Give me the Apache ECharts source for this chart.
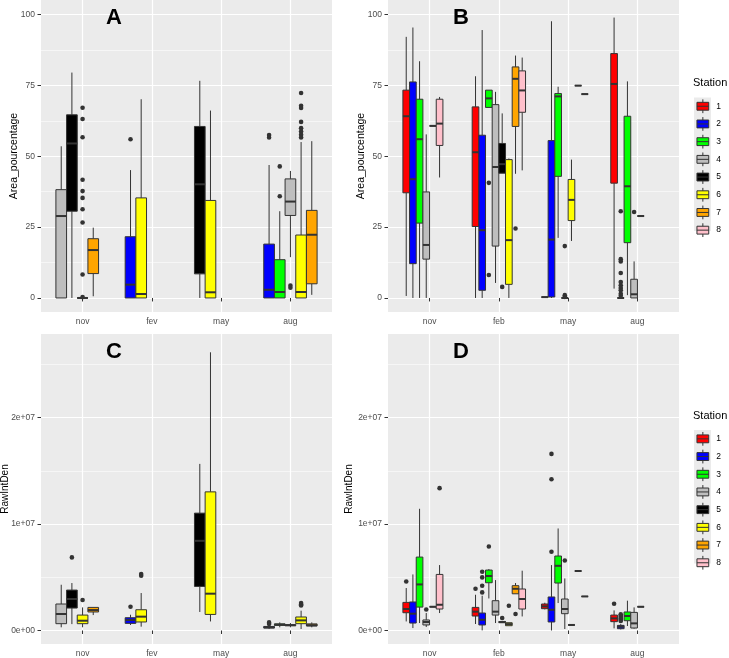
<!DOCTYPE html>
<html>
<head>
<meta charset="utf-8">
<script src="https://cdn.jsdelivr.net/npm/echarts@6/dist/echarts.min.js"></script>
<style>
html,body{margin:0;padding:0;background:#fff;}
#chart{width:729px;height:658px;}
</style>
</head>
<body>
<div id="chart"></div>
<script>
// ---------- data ----------
const monthsAC = ['nov', 'fev', 'may', 'aug'];
const monthsBD = ['nov', 'feb', 'may', 'aug'];
const stationNames = ['1', '2', '3', '4', '5', '6', '7', '8'];
const stationColors = ['#FF0000', '#0000FF', '#00FF00', '#BEBEBE', '#000000', '#FFFF00', '#FFA500', '#FFC0CB'];
const areaTicks = [0, 25, 50, 75, 100];
const areaMinorTicks = [12.5, 37.5, 62.5, 87.5];
const rawTicks = [0, 1e7, 2e7];
const rawTickLabels = ['0e+00', '1e+07', '2e+07'];
const rawMinorTicks = [5e6, 1.5e7, 2.5e7];

// [monthIndex, station, lowerWhisker, q1, median, q3, upperWhisker]
const boxesA = [
  [0, 4, 0, 0, 28.9, 38.2, 53.5],
  [0, 5, 0, 30.6, 54.5, 64.6, 79.5],
  [0, 6, 0, 0, 0, 0, 0.4],
  [0, 7, 0.6, 8.6, 16.9, 20.9, 24.8],
  [1, 2, 0, 0, 4.7, 21.6, 45.1],
  [1, 6, 0, 0, 1.4, 35.3, 70.1],
  [2, 5, 0, 8.5, 40.1, 60.5, 76.6],
  [2, 6, 0, 0, 2.0, 34.4, 66.1],
  [3, 2, 0, 0, 2.9, 19.0, 46.9],
  [3, 3, 0, 0, 2.1, 13.5, 30.6],
  [3, 4, 14.4, 29.1, 34.0, 42.0, 44.8],
  [3, 6, 0, 0, 2.1, 22.2, 55.0],
  [3, 7, 1.1, 5.0, 22.3, 30.9, 55.3]
];
// [monthIndex, station, value]
const outliersA = [
  [0, 6, 67.1], [0, 6, 63.1], [0, 6, 56.7], [0, 6, 41.7], [0, 6, 37.7], [0, 6, 35.3], [0, 6, 31.3], [0, 6, 26.6], [0, 6, 8.3], [0, 6, 0.3],
  [1, 2, 56.0],
  [3, 2, 57.5], [3, 2, 56.6],
  [3, 3, 46.4], [3, 3, 35.9],
  [3, 4, 3.6], [3, 4, 4.4],
  [3, 6, 72.3], [3, 6, 67.8], [3, 6, 67.0], [3, 6, 62.1], [3, 6, 59.9], [3, 6, 58.7], [3, 6, 57.6], [3, 6, 56.6]
];

const boxesB = [
  [0, 1, 0.7, 37.1, 64.1, 73.3, 92.1],
  [0, 2, 0, 12.1, 41.9, 76.2, 95.4],
  [0, 3, 0, 26.4, 56.0, 70.1, 83.5],
  [0, 4, 0, 13.7, 18.7, 37.4, 57.7],
  [0, 5, 60.7, 60.7, 60.7, 60.7, 60.7],
  [0, 8, 42.5, 53.8, 61.5, 70.1, 70.9],
  [1, 1, 0, 25.2, 51.4, 67.4, 78.2],
  [1, 2, 0, 2.7, 23.9, 57.4, 94.5],
  [1, 3, 67.2, 67.2, 70.4, 73.3, 73.3],
  [1, 4, 5.3, 18.3, 46.2, 68.2, 72.7],
  [1, 5, 44.0, 44.0, 47.2, 54.5, 65.1],
  [1, 6, 0, 4.8, 20.4, 48.8, 49.2],
  [1, 7, 43.8, 60.5, 77.3, 81.5, 85.5],
  [1, 8, 45.0, 65.5, 73.2, 80.1, 84.8],
  [2, 1, 0.3, 0.3, 0.3, 0.3, 0.3],
  [2, 2, 0, 0.35, 20.6, 55.5, 97.6],
  [2, 3, 21.2, 42.9, 71.1, 72.1, 74.5],
  [2, 4, 0, 0, 0, 0, 0],
  [2, 6, 20.1, 27.3, 34.6, 41.8, 48.8],
  [2, 7, 74.9, 74.9, 74.9, 74.9, 74.9],
  [2, 8, 71.9, 71.9, 71.9, 71.9, 71.9],
  [3, 1, 3.3, 40.5, 75.5, 86.2, 98.9],
  [3, 2, 0, 0, 0, 0, 0.3],
  [3, 3, 1.0, 19.5, 39.4, 64.1, 76.4],
  [3, 4, 0, 0, 1.3, 6.6, 12.9],
  [3, 5, 28.9, 28.9, 28.9, 28.9, 28.9]
];
const outliersB = [
  [1, 3, 40.6], [1, 3, 8.1], [1, 5, 3.9], [1, 7, 24.5],
  [2, 4, 18.3], [2, 4, 1.0], [2, 4, 0.4],
  [3, 2, 30.6], [3, 2, 13.7], [3, 2, 12.9], [3, 2, 8.8], [3, 2, 5.6], [3, 2, 4.5], [3, 2, 3.5], [3, 2, 2.7], [3, 2, 1.5], [3, 2, 0.8],
  [3, 4, 30.3]
];

const boxesC = [
  [0, 4, 0.3e6, 0.64e6, 1.55e6, 2.49e6, 4.3e6],
  [0, 5, 0.6e6, 2.11e6, 2.96e6, 3.8e6, 4.46e6],
  [0, 6, 0.3e6, 0.64e6, 0.92e6, 1.45e6, 2.17e6],
  [0, 7, 1.45e6, 1.74e6, 1.92e6, 2.17e6, 2.17e6],
  [1, 2, 0.52e6, 0.67e6, 0.98e6, 1.2e6, 1.48e6],
  [1, 6, 0.36e6, 0.8e6, 1.3e6, 1.95e6, 3.52e6],
  [2, 5, 1.74e6, 4.14e6, 8.43e6, 11.03e6, 15.66e6],
  [2, 6, 0.85e6, 1.51e6, 3.46e6, 13.03e6, 26.15e6],
  [3, 2, 0.15e6, 0.23e6, 0.3e6, 0.38e6, 0.5e6],
  [3, 3, 0.3e6, 0.48e6, 0.55e6, 0.62e6, 0.76e6],
  [3, 4, 0.3e6, 0.45e6, 0.5e6, 0.55e6, 0.7e6],
  [3, 6, 0.14e6, 0.64e6, 0.95e6, 1.27e6, 1.86e6],
  [3, 7, 0.3e6, 0.42e6, 0.5e6, 0.62e6, 0.76e6]
];
const outliersC = [
  [0, 5, 6.87e6], [0, 6, 2.86e6],
  [1, 2, 2.23e6], [1, 6, 5.3e6], [1, 6, 5.15e6],
  [3, 2, 0.76e6], [3, 2, 0.62e6], [3, 6, 2.58e6], [3, 6, 2.45e6], [3, 6, 2.36e6]
];

const boxesD = [
  [0, 1, 0.85e6, 1.67e6, 2.02e6, 2.64e6, 3.99e6],
  [0, 2, 0.23e6, 0.7e6, 1.58e6, 2.68e6, 5.27e6],
  [0, 3, 0.7e6, 2.2e6, 4.33e6, 6.9e6, 11.44e6],
  [0, 4, 0.33e6, 0.52e6, 0.8e6, 0.99e6, 1.64e6],
  [0, 5, 2.23e6, 2.23e6, 2.23e6, 2.23e6, 2.23e6],
  [0, 8, 1.64e6, 2.02e6, 2.42e6, 5.27e6, 6.15e6],
  [1, 1, 0.61e6, 1.36e6, 1.77e6, 2.17e6, 3.36e6],
  [1, 2, 0.01e6, 0.52e6, 1.01e6, 1.64e6, 3.27e6],
  [1, 3, 3.01e6, 4.49e6, 5.12e6, 5.68e6, 5.77e6],
  [1, 4, 0.7e6, 1.45e6, 1.77e6, 2.8e6, 4.74e6],
  [1, 5, 0.73e6, 0.73e6, 0.8e6, 0.85e6, 0.85e6],
  [1, 6, 0.45e6, 0.45e6, 0.6e6, 0.73e6, 0.73e6],
  [1, 7, 3.45e6, 3.45e6, 3.92e6, 4.21e6, 4.46e6],
  [1, 8, 1.32e6, 2.02e6, 2.96e6, 3.9e6, 5.62e6],
  [2, 1, 1.98e6, 2.05e6, 2.27e6, 2.49e6, 2.61e6],
  [2, 2, 0, 0.8e6, 1.95e6, 3.15e6, 6.15e6],
  [2, 3, 2.58e6, 4.46e6, 6.08e6, 7.0e6, 9.59e6],
  [2, 4, 0.14e6, 1.58e6, 2.02e6, 2.96e6, 4.89e6],
  [2, 6, 0.52e6, 0.52e6, 0.52e6, 0.52e6, 0.52e6],
  [2, 7, 5.59e6, 5.59e6, 5.59e6, 5.59e6, 5.59e6],
  [2, 8, 3.2e6, 3.2e6, 3.2e6, 3.2e6, 3.2e6],
  [3, 1, 0.2e6, 0.83e6, 1.14e6, 1.45e6, 1.89e6],
  [3, 2, 0.1e6, 0.17e6, 0.35e6, 0.48e6, 0.6e6],
  [3, 3, 0.42e6, 0.92e6, 1.36e6, 1.74e6, 2.8e6],
  [3, 4, 0.17e6, 0.23e6, 0.67e6, 1.7e6, 2.17e6],
  [3, 5, 2.23e6, 2.23e6, 2.23e6, 2.23e6, 2.23e6]
];
const outliersD = [
  [0, 1, 4.61e6], [0, 4, 1.98e6], [0, 8, 13.38e6],
  [1, 1, 3.92e6], [1, 2, 5.52e6], [1, 2, 4.99e6], [1, 2, 4.21e6], [1, 2, 3.58e6], [1, 3, 7.9e6], [1, 5, 1.17e6], [1, 6, 2.33e6], [1, 7, 1.55e6],
  [2, 2, 16.6e6], [2, 2, 14.22e6], [2, 2, 7.4e6], [2, 4, 6.58e6],
  [3, 1, 2.52e6], [3, 2, 0.9e6], [3, 2, 1.02e6], [3, 2, 1.13e6], [3, 2, 1.27e6], [3, 2, 1.38e6], [3, 2, 1.52e6]
];

// ---------- layout / style ----------
const FONT = '"Liberation Sans", Arial, Helvetica, sans-serif';
const DODGE = 0.77;
const grids = [
  {left: 41, top: 0, width: 291, height: 312},
  {left: 388, top: 0, width: 291, height: 312},
  {left: 41, top: 334, width: 291, height: 310},
  {left: 388, top: 334, width: 291, height: 310}
];
const panels = [
  {boxes: boxesA, outs: outliersA, months: monthsAC, ymin: -4.95, ymax: 105.1, ticks: areaTicks, minor: areaMinorTicks, fmt: v => String(Math.round(v)), name: 'Area_pourcentage', nameGap: 21, nameSize: 10.5},
  {boxes: boxesB, outs: outliersB, months: monthsBD, ymin: -4.95, ymax: 105.1, ticks: areaTicks, minor: areaMinorTicks, fmt: v => String(Math.round(v)), name: 'Area_pourcentage', nameGap: 21, nameSize: 10.5},
  {boxes: boxesC, outs: outliersC, months: monthsAC, ymin: -1.27e6, ymax: 27.87e6, ticks: rawTicks, minor: rawMinorTicks, fmt: v => rawTickLabels[rawTicks.indexOf(Math.round(v))] || '', name: 'RawIntDen', nameGap: 30.5, nameSize: 10},
  {boxes: boxesD, outs: outliersD, months: monthsBD, ymin: -1.27e6, ymax: 27.87e6, ticks: rawTicks, minor: rawMinorTicks, fmt: v => rawTickLabels[rawTicks.indexOf(Math.round(v))] || '', name: 'RawIntDen', nameGap: 33.5, nameSize: 10}
];

function slotify(boxes) {
  const byMonth = {};
  boxes.forEach(b => { (byMonth[b[0]] = byMonth[b[0]] || []).push(b[1]); });
  let n = 0;
  const slot = {};
  Object.keys(byMonth).forEach(m => {
    const list = byMonth[m].slice().sort((a, b) => a - b);
    n = Math.max(n, list.length);
    list.forEach((s, i) => { slot[m + '-' + s] = i; });
  });
  return {slot, n};
}

function slotCenter(m, slot, n) {
  const w = DODGE / n;
  return {xc: m + 1 - DODGE / 2 + (slot + 0.5) * w, w: w};
}

function renderBox(params, api) {
  const s = slotCenter(api.value(0), api.value(1), api.value(2));
  const pLo = api.coord([s.xc, api.value(3)]);
  const pQ1 = api.coord([s.xc - s.w / 2, api.value(4)]);
  const pMed = api.coord([s.xc, api.value(5)]);
  const pQ3 = api.coord([s.xc + s.w / 2, api.value(6)]);
  const pHi = api.coord([s.xc, api.value(7)]);
  const color = api.visual('color');
  const lineStyle = {stroke: '#333333', lineWidth: 1};
  return {
    type: 'group',
    children: [
      {type: 'line', shape: {x1: pMed[0], y1: pHi[1], x2: pMed[0], y2: pQ3[1]}, style: lineStyle},
      {type: 'line', shape: {x1: pMed[0], y1: pQ1[1], x2: pMed[0], y2: pLo[1]}, style: lineStyle},
      {type: 'rect', shape: {x: pQ1[0], y: pQ3[1], width: pQ3[0] - pQ1[0], height: pQ1[1] - pQ3[1]}, style: {fill: color, stroke: '#333333', lineWidth: 1}},
      {type: 'line', shape: {x1: pQ1[0], y1: pMed[1], x2: pQ3[0], y2: pMed[1]}, style: {stroke: '#333333', lineWidth: 2}}
    ]
  };
}

function renderOutlier(params, api) {
  const s = slotCenter(api.value(0), api.value(1), api.value(2));
  const p = api.coord([s.xc, api.value(3)]);
  return {type: 'circle', shape: {cx: p[0], cy: p[1], r: 2.3}, style: {fill: '#333333'}};
}

const xAxes = [], yAxes = [], series = [];
panels.forEach((P, g) => {
  xAxes.push({
    type: 'value', gridIndex: g, min: 0.4, max: 4.6,
    axisLine: {show: false},
    axisTick: {show: true, customValues: [1, 2, 3, 4], length: 3.5, lineStyle: {color: '#333333', width: 1}},
    axisLabel: {customValues: [1, 2, 3, 4], formatter: v => P.months[Math.round(v) - 1] || '', color: '#4D4D4D', fontSize: 8.5, fontFamily: FONT, margin: 5},
    splitLine: {show: true, lineStyle: {color: '#FFFFFF', width: 1.2}}
  });
  yAxes.push({
    type: 'value', gridIndex: g, min: P.ymin, max: P.ymax, position: 'left',
    axisLine: {show: false},
    axisTick: {show: true, customValues: P.ticks, length: 3.5, lineStyle: {color: '#333333', width: 1}},
    axisLabel: {customValues: P.ticks, formatter: P.fmt, color: '#4D4D4D', fontSize: 8.5, fontFamily: FONT, margin: 6},
    splitLine: {show: true, lineStyle: {color: '#FFFFFF', width: 1.2}},
    name: P.name, nameLocation: 'middle', nameGap: P.nameGap, nameRotate: 90, nameMoveOverlap: false,
    nameTextStyle: {color: '#000000', fontSize: P.nameSize, fontFamily: FONT}
  });
  yAxes.push({
    type: 'value', gridIndex: g, min: P.ymin, max: P.ymax, position: 'right',
    axisLine: {show: false},
    axisTick: {show: false, customValues: P.minor},
    axisLabel: {show: false, customValues: P.minor},
    splitLine: {show: true, lineStyle: {color: '#FFFFFF', width: 0.55}}
  });
  const sl = slotify(P.boxes);
  stationNames.forEach((name, si) => {
    const st = si + 1;
    const bdata = P.boxes.filter(b => b[1] === st).map(b => [b[0], sl.slot[b[0] + '-' + st], sl.n, b[2], b[3], b[4], b[5], b[6]]);
    if (!bdata.length) return;
    series.push({
      type: 'custom', name: name, xAxisIndex: g, yAxisIndex: 2 * g,
      itemStyle: {color: stationColors[si]},
      renderItem: renderBox, data: bdata, clip: true, silent: true, z: 3
    });
    const odata = P.outs.filter(o => o[1] === st).map(o => [o[0], sl.slot[o[0] + '-' + st], sl.n, o[2]]);
    if (odata.length) {
      series.push({
        type: 'custom', name: name, xAxisIndex: g, yAxisIndex: 2 * g,
        itemStyle: {color: stationColors[si]},
        renderItem: renderOutlier, data: odata, clip: true, silent: true, z: 4
      });
    }
  });
});

const boxIcon = 'path://M0,0M17,17M8.5,1.5V4.5M8.5,12.5V15.5M2.5,4.5H14.5V12.5H2.5ZM2.5,8.5H14.5';
function legendAt(top) {
  return {
    orient: 'vertical', left: 694, top: top, padding: 0,
    itemWidth: 17, itemHeight: 16.7, itemGap: 0, selectedMode: false,
    textStyle: {color: '#000000', fontSize: 8.5, fontFamily: FONT},
    data: stationNames.map((s, i) => ({name: s, icon: boxIcon, itemStyle: {color: stationColors[i], borderColor: '#333333', borderWidth: 1}}))
  };
}

const letterStyle = {fontSize: 22, fontWeight: 'bold', color: '#000000', fontFamily: FONT};
const option = {
  animation: false,
  grid: grids.map(gd => Object.assign({show: true, backgroundColor: '#EBEBEB', borderWidth: 0, containLabel: false, outerBoundsMode: 'none'}, gd)),
  xAxis: xAxes,
  yAxis: yAxes,
  series: series,
  legend: [legendAt(97.4), legendAt(430)],
  title: [
    {text: 'A', left: 106, top: 7, padding: 0, textStyle: letterStyle},
    {text: 'B', left: 453, top: 7, padding: 0, textStyle: letterStyle},
    {text: 'C', left: 106, top: 341, padding: 0, textStyle: letterStyle},
    {text: 'D', left: 453, top: 341, padding: 0, textStyle: letterStyle},
    {text: 'Station', left: 693, top: 77, padding: 0, textStyle: {fontSize: 11, fontWeight: 'normal', color: '#000000', fontFamily: FONT}},
    {text: 'Station', left: 693, top: 410, padding: 0, textStyle: {fontSize: 11, fontWeight: 'normal', color: '#000000', fontFamily: FONT}}
  ],
  graphic: [
    {type: 'rect', shape: {x: 694, y: 97.4, width: 17, height: 133.6}, style: {fill: '#EBEBEB'}, z: 0},
    {type: 'rect', shape: {x: 694, y: 430, width: 17, height: 133.6}, style: {fill: '#EBEBEB'}, z: 0}
  ]
};

const chart = echarts.init(document.getElementById('chart'), null, {renderer: 'canvas'});
chart.setOption(option);
</script>
</body>
</html>
